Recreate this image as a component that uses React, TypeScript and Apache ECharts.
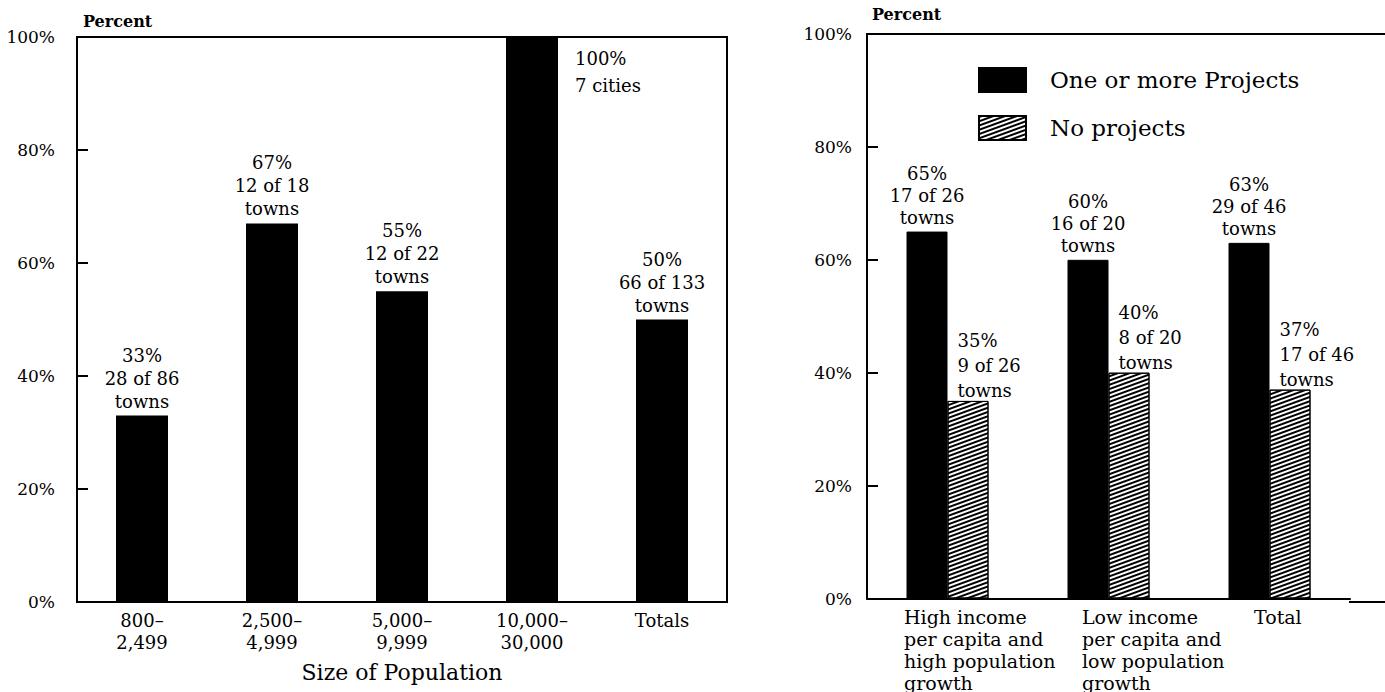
import React, { useEffect, useRef } from "react";
import * as echarts from "echarts";

// Left panel: share of towns with one or more projects, by population size
const sizeCategories = ["800–\n2,499", "2,500–\n4,999", "5,000–\n9,999", "10,000–\n30,000", "Totals"];
const sizeValues = [33, 67, 55, 100, 50];
const sizeCounts = ["28 of 86\ntowns", "12 of 18\ntowns", "12 of 22\ntowns", "7 cities", "66 of 133\ntowns"];

// Right panel: by income / population growth group
const groupCategories = [
  "High income\nper capita and\nhigh population\ngrowth",
  "Low income\nper capita and\nlow population\ngrowth",
  "Total",
];
const projectValues = [65, 60, 63];
const projectCounts = ["17 of 26\ntowns", "16 of 20\ntowns", "29 of 46\ntowns"];
const noProjectValues = [35, 40, 37];
const noProjectCounts = ["9 of 26\ntowns", "8 of 20\ntowns", "17 of 46\ntowns"];

const yTicks = [0, 20, 40, 60, 80, 100];

const FONT = "DejaVu Serif";

export default function App() {
  const ref = useRef<HTMLDivElement>(null);

  useEffect(() => {
    if (!ref.current) return;
    const chart = echarts.init(ref.current, undefined, { renderer: "svg" });

    const yAxisCommon = (gridIndex: number, margin: number, nameGap: number, pad: number) => ({
      type: "value" as const,
      gridIndex,
      min: yTicks[0],
      max: yTicks[yTicks.length - 1],
      interval: 20,
      name: "Percent",
      nameLocation: "end" as const,
      nameGap,
      nameTextStyle: {
        fontFamily: FONT,
        fontWeight: "bold" as const,
        fontSize: 16,
        color: "#000",
        align: "left" as const,
        padding: [0, 0, 0, pad],
      },
      axisLine: { show: true, lineStyle: { color: "#000", width: 2 } },
      axisTick: { show: true, inside: true, length: 11, lineStyle: { color: "#000", width: 2 } },
      splitLine: { show: false },
      axisLabel: {
        margin,
        formatter: "{value}%",
        fontFamily: FONT,
        fontSize: 17,
        color: "#000",
      },
    });

    const richLabel = (w: number) => ({
      width: w,
      align: "left",
      fontFamily: FONT,
      fontSize: 19,
      lineHeight: 22,
      color: "#000",
    });

    const option: any = {
      animation: false,
      textStyle: { fontFamily: FONT, color: "#000" },
      grid: [
        { left: 77, top: 37, width: 650, height: 565, show: true, borderColor: "#000", borderWidth: 2, backgroundColor: "transparent" },
        { left: 867, top: 34, width: 483, height: 568 },
      ],
      legend: {
        data: ["One or more Projects", "No projects"],
        orient: "vertical",
        left: 973,
        top: 62,
        itemWidth: 47,
        itemHeight: 24,
        itemGap: 22,
        icon: "rect",
        selectedMode: false,
        textStyle: { fontFamily: FONT, fontSize: 23, color: "#000", padding: [0, 0, 0, 19] },
      },
      xAxis: [
        {
          type: "category",
          gridIndex: 0,
          data: sizeCategories,
          axisLine: { show: true, lineStyle: { color: "#000", width: 2 } },
          axisTick: { show: false },
          axisLabel: { interval: 0, margin: 7, fontFamily: FONT, fontSize: 18, lineHeight: 22, color: "#000" },
          name: "Size of Population",
          nameLocation: "middle",
          nameGap: 59,
          nameTextStyle: { fontFamily: FONT, fontSize: 22, color: "#000" },
        },
        {
          type: "category",
          gridIndex: 1,
          data: groupCategories,
          axisLine: { show: true, lineStyle: { color: "#000", width: 2 } },
          axisTick: { show: false },
          axisLabel: {
            interval: 0,
            margin: 7,
            formatter: (value: string, index: number) =>
              value.split("\n").map((l) => `{w${index}|${l}}`).join("\n"),
            rich: { w0: richLabel(87), w1: richLabel(53), w2: richLabel(31) },
          },
        },
      ],
      yAxis: [yAxisCommon(0, 22, 8, 6), yAxisCommon(1, 15, 12, 5)],
      graphic: [
        { type: "line", shape: { x1: 866, y1: 34, x2: 1385, y2: 34 }, style: { stroke: "#000", lineWidth: 2 }, silent: true },
        { type: "line", shape: { x1: 1349, y1: 602, x2: 1385, y2: 602 }, style: { stroke: "#000", lineWidth: 2 }, silent: true },
      ],
      series: [
        {
          type: "bar",
          name: "Size of Population",
          xAxisIndex: 0,
          yAxisIndex: 0,
          barWidth: 52,
          itemStyle: { color: "#000" },
          data: sizeValues.map((v, i) =>
            i === 3
              ? { value: v, label: { position: [69, 8], align: "left", verticalAlign: "top", lineHeight: 27 } }
              : v
          ),
          label: {
            show: true,
            position: "top",
            distance: 3,
            fontFamily: FONT,
            fontSize: 18,
            lineHeight: 23,
            color: "#000",
            formatter: (p: any) => `${p.value}%\n${sizeCounts[p.dataIndex]}`,
          },
        },
        {
          type: "bar",
          name: "One or more Projects",
          xAxisIndex: 1,
          yAxisIndex: 1,
          barWidth: 41,
          barGap: "0%",
          itemStyle: { color: "#000", borderColor: "#000", borderWidth: 1 },
          data: projectValues,
          label: {
            show: true,
            position: "top",
            distance: 3,
            fontFamily: FONT,
            fontSize: 18,
            lineHeight: 22,
            color: "#000",
            formatter: (p: any) => `${p.value}%\n${projectCounts[p.dataIndex]}`,
          },
        },
        {
          type: "bar",
          name: "No projects",
          xAxisIndex: 1,
          yAxisIndex: 1,
          barWidth: 41,
          barGap: "0%",
          itemStyle: {
            color: "#fff",
            borderColor: "#000",
            borderWidth: 1,
            decal: {
              symbol: "rect",
              symbolSize: 1,
              color: "#000",
              dashArrayX: [1, 0],
              dashArrayY: [1.3, 1.9],
              rotation: -Math.PI / 9,
            },
          },
          data: noProjectValues,
          label: {
            show: true,
            position: [10, 2],
            align: "left",
            verticalAlign: "bottom",
            fontFamily: FONT,
            fontSize: 18,
            lineHeight: 25,
            color: "#000",
            formatter: (p: any) => `${p.value}%\n${noProjectCounts[p.dataIndex]}`,
          },
        },
      ],
    };

    chart.setOption(option);
    return () => chart.dispose();
  }, []);

  return (
    <div
      ref={ref}
      style={{ position: "fixed", left: 0, top: 0, width: 1385, height: 692, background: "#fff" }}
    />
  );
}
